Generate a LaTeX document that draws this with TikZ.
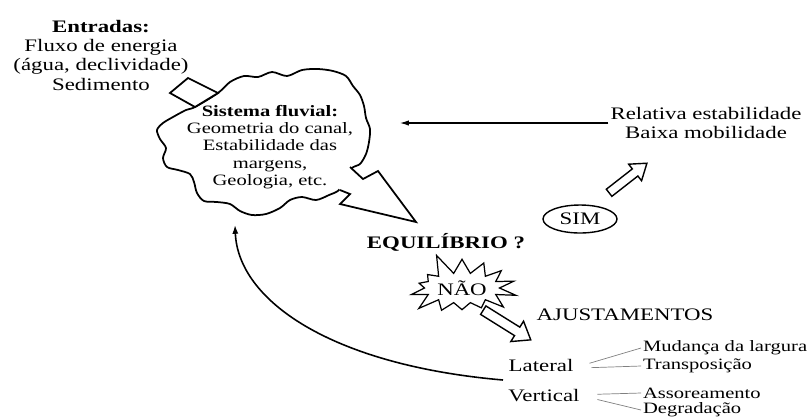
\documentclass[tikz,border=0pt]{standalone}
\usepackage{fontspec}
\setmainfont{Liberation Serif}[FakeStretch=1.3]
\usetikzlibrary{shapes.symbols,shapes.geometric,arrows.meta,positioning}
\begin{document}
\begin{tikzpicture}[x=0.02cm,y=-0.02cm,
  txt/.style={align=center,inner sep=1pt,font=\fontsize{10}{11}\selectfont},
  sml/.style={align=center,inner sep=1pt,font=\fontsize{9}{9.8}\selectfont},
  hol/.style={draw,fill=white,line width=0.8pt},
  map/.style={draw=gray,line width=0.4pt}]
\useasboundingbox (0,0) rectangle (807,417);
\draw[line width=1pt] plot[smooth cycle] coordinates {(218,93) (230,82) (244,76) (258,77) (272,72) (287,76) (302,70) (318,69) (333,71) (346,76) (353,86) (360,95) (364,106) (366,118) (370,129) (369,142) (366,154) (360,164) (351,169) (340,189) (329,195) (316,200) (302,197) (290,200) (280,208) (266,214) (252,215) (240,211) (230,204) (217,202) (204,201) (197,193) (194,182) (190,174) (178,170) (167,167) (163,158) (166,148) (160,139) (157,130) (163,123) (173,117) (186,110) (195,107)};
\filldraw[fill=white,line width=1pt] (195,107)--(170,93)--(188,78)--(218,93)--cycle;
\fill[white] (350,167)--(363,179)--(378,171)--(416,222)--(340,204)--(350,194)--(340,190)--(332,178)--cycle;
\draw[line width=1pt] (350,167)--(363,179)--(378,171)--(416,222)--(340,204)--(350,194)--(340,190);
\node[txt] (ent) at (101,55) {\textbf{Entradas:}\\Fluxo de energia\\(água, declividade)\\Sedimento};
\node[sml] (sis) at (270,147) {\textbf{Sistema fluvial:}\\Geometria do canal,\\Estabilidade das\\margens,\\Geologia, etc.};
\node[txt,font=\fontsize{10}{11.3}\selectfont] (rel) at (706,123) {Relativa estabilidade\\Baixa mobilidade};
\node[txt,font=\bfseries\fontsize{10}{11}\selectfont] (equi) at (446,242) {EQUILÍBRIO ?};
\node[txt,draw,ellipse,line width=0.8pt,minimum width=1.48cm,minimum height=0.56cm,inner sep=0pt] (sim) at (580,219) {SIM};
\node[txt,draw,starburst,starburst points=14,starburst point height=0.45cm,random starburst=5,minimum width=2.2cm,minimum height=1.5cm,line width=0.7pt] (nao) at (462,288) {NÃO};
\node[txt] (aju) at (625,315) {AJUSTAMENTOS};
\node[txt] (lat) at (541,365) {Lateral};
\node[txt] (vert) at (544,396) {Vertical};
\node[sml,anchor=west] (mud) at (641,348) {Mudança da largura};
\node[sml,anchor=west] (tra) at (641,366) {Transposição};
\node[sml,anchor=west] (ass) at (641,393) {Assoreamento};
\node[sml,anchor=west] (deg) at (641,410) {Degradação};
\coordinate (sisR) at (400,123);
\coordinate (cb) at (235,225);
\coordinate (fb) at (503,380);
\draw[line width=0.6pt,-{Latex[length=5pt,width=3pt]}] (rel.west) -- (sisR);
\begin{scope}[shift={(628,178)},rotate=38]
\draw[hol] (-24,-4.5)--(9,-4.5)--(9,-10.5)--(24,0)--(9,10.5)--(9,4.5)--(-24,4.5)--cycle;
\end{scope}
\begin{scope}[shift={(507,325)},rotate=-32]
\draw[hol] (-28,-5)--(12,-5)--(12,-12)--(28,0)--(12,12)--(12,5)--(-28,5)--cycle;
\end{scope}
\draw[line width=0.9pt,-{Latex[length=5pt,width=3.5pt]}] (fb) .. controls (330,365) and (238,300) .. (cb);
\draw[map] ([xshift=8pt,yshift=1pt]lat.east) -- (mud.west);
\draw[map] ([xshift=9pt,yshift=-1.5pt]lat.east) -- (tra.west);
\draw[map] ([xshift=9pt,yshift=1pt]vert.east) -- (ass.west);
\draw[map] ([xshift=9pt,yshift=-2pt]vert.east) -- (deg.west);
\end{tikzpicture}
\end{document}
